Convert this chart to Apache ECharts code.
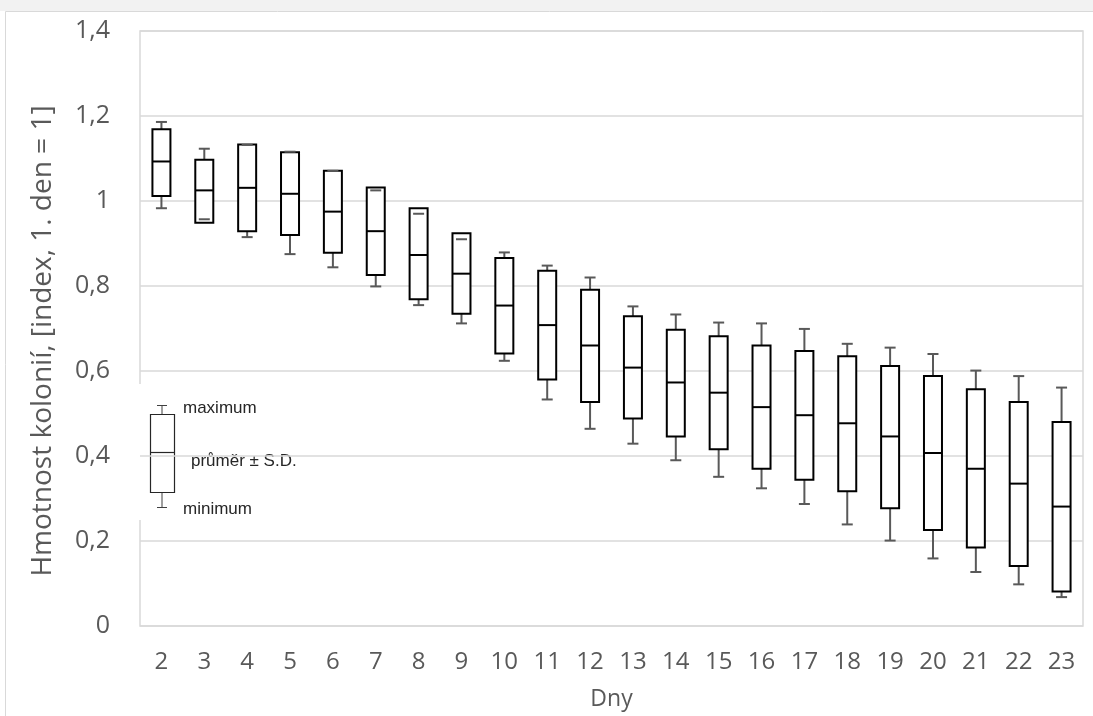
<!DOCTYPE html>
<html lang="cs">
<head>
<meta charset="UTF-8">
<title>Hmotnost kolonií</title>
<script src="https://cdn.jsdelivr.net/npm/echarts@6/dist/echarts.min.js"></script>
<style>
    html, body, #chart {
        width: 100%;
        height: 100%;
        margin: 0;
        padding: 0;
        background: #fff;
    }
</style>
</head>
<body>
<div id="chart"></div>
<script>
    // values: day, maximum, mean + SD, mean, mean - SD, minimum
    var days = ["2", "3", "4", "5", "6", "7", "8", "9", "10", "11", "12", "13",
        "14", "15", "16", "17", "18", "19", "20", "21", "22", "23"];
    var maxima = [1.186, 1.123, 1.132, 1.116, 1.071, 1.025, 0.970, 0.910, 0.879, 0.848, 0.820,
        0.752, 0.733, 0.714, 0.712, 0.699, 0.664, 0.655, 0.640, 0.601, 0.588, 0.561];
    var upperSD = [1.169, 1.097, 1.133, 1.115, 1.071, 1.032, 0.983, 0.924, 0.866, 0.836, 0.791,
        0.729, 0.697, 0.682, 0.660, 0.647, 0.635, 0.612, 0.588, 0.557, 0.527, 0.480];
    var means = [1.093, 1.025, 1.031, 1.017, 0.975, 0.929, 0.873, 0.829, 0.754, 0.708, 0.660,
        0.608, 0.573, 0.549, 0.515, 0.496, 0.477, 0.446, 0.407, 0.370, 0.335, 0.281];
    var lowerSD = [1.012, 0.949, 0.929, 0.920, 0.878, 0.826, 0.769, 0.735, 0.641, 0.580, 0.527,
        0.488, 0.446, 0.416, 0.370, 0.344, 0.317, 0.277, 0.226, 0.185, 0.141, 0.081];
    var minima = [0.983, 0.957, 0.915, 0.875, 0.844, 0.799, 0.755, 0.712, 0.624, 0.533, 0.464,
        0.429, 0.390, 0.351, 0.324, 0.287, 0.239, 0.201, 0.159, 0.127, 0.098, 0.068];
    var yTicks = [0, 0.2, 0.4, 0.6, 0.8, 1, 1.2, 1.4];

    var boxData = days.map(function (d, i) {
        return [i, maxima[i], upperSD[i], means[i], lowerSD[i], minima[i]];
    });

    var textFont = "'Open Sans', sans-serif";
    var legendFont = "17px 'Liberation Sans', Arial, sans-serif";
    var whiskerColor = "#595959";

    function renderBox(params, api) {
        var i = api.value(0);
        var pMax = api.coord([i, api.value(1)]);
        var pUp = api.coord([i, api.value(2)]);
        var pMean = api.coord([i, api.value(3)]);
        var pLow = api.coord([i, api.value(4)]);
        var pMin = api.coord([i, api.value(5)]);
        var band = api.size([1, 0])[0];
        var half = band * 0.21;
        var cap = 5.5;
        var x = pMean[0];
        return {
            type: "group",
            children: [
                {type: "line", shape: {x1: x, y1: pMax[1], x2: x, y2: pMin[1]},
                    style: {stroke: whiskerColor, lineWidth: 2}},
                {type: "rect", shape: {x: x - half, y: pUp[1], width: half * 2, height: pLow[1] - pUp[1]},
                    style: {fill: "#fff", stroke: "#000", lineWidth: 2}},
                {type: "line", shape: {x1: x - half, y1: pMean[1], x2: x + half, y2: pMean[1]},
                    style: {stroke: "#000", lineWidth: 2}},
                {type: "line", shape: {x1: x - cap, y1: pMax[1], x2: x + cap, y2: pMax[1]},
                    style: {stroke: whiskerColor, lineWidth: 2}},
                {type: "line", shape: {x1: x - cap, y1: pMin[1], x2: x + cap, y2: pMin[1]},
                    style: {stroke: whiskerColor, lineWidth: 2}}
            ]
        };
    }

    var chart = echarts.init(document.getElementById("chart"));

    chart.setOption({
        animation: false,
        grid: {
            left: 140,
            right: 10,
            top: 31,
            bottom: 90,
            show: true,
            borderColor: "#d9d9d9",
            borderWidth: 1.5
        },
        xAxis: {
            type: "category",
            data: days,
            boundaryGap: true,
            name: "Dny",
            nameLocation: "middle",
            nameGap: 62,
            nameTextStyle: {color: "#595959", fontSize: 23, fontFamily: textFont},
            axisLine: {show: false},
            axisTick: {show: false},
            axisLabel: {color: "#595959", fontSize: 24, fontFamily: textFont, margin: 24}
        },
        yAxis: {
            type: "value",
            min: 0,
            max: yTicks[yTicks.length - 1],
            interval: 0.2,
            axisLine: {show: false},
            axisTick: {show: false},
            splitLine: {lineStyle: {color: "#d9d9d9", width: 1.5}},
            axisLabel: {
                color: "#595959",
                fontSize: 25,
                fontFamily: textFont,
                margin: 30,
                formatter: function (v) {
                    return String(Math.round(v * 10) / 10).replace(".", ",");
                }
            }
        },
        graphic: [
            {type: "rect", z: 0, silent: true,
                shape: {x: 0, y: 0, width: 1093, height: 11}, style: {fill: "#f2f2f2"}},
            {type: "rect", z: 0, silent: true,
                shape: {x: 5.5, y: 11.5, width: 1200, height: 800},
                style: {fill: "none", stroke: "#d9d9d9", lineWidth: 1}},
            // y axis title
            {type: "text", z: 10, x: 43, y: 341, rotation: Math.PI / 2,
                style: {text: "Hmotnost kolonií, [index, 1. den = 1]", fill: "#595959",
                    font: "28px 'Open Sans', sans-serif", align: "center", verticalAlign: "middle"}},
            // legend inset
            {type: "group", z: 100, children: [
                {type: "rect", shape: {x: 128, y: 384, width: 177, height: 136}, style: {fill: "#fff"}},
                {type: "line", shape: {x1: 162, y1: 406, x2: 162, y2: 508}, style: {stroke: "#404040", lineWidth: 1}},
                {type: "rect", shape: {x: 150.5, y: 414.5, width: 24, height: 78}, style: {fill: "#fff", stroke: "#262626", lineWidth: 1.2}},
                {type: "line", shape: {x1: 150.5, y1: 452.5, x2: 174.5, y2: 452.5}, style: {stroke: "#262626", lineWidth: 1.2}},
                {type: "line", shape: {x1: 157, y1: 405.5, x2: 167, y2: 405.5}, style: {stroke: "#404040", lineWidth: 1}},
                {type: "line", shape: {x1: 157, y1: 507.5, x2: 167, y2: 507.5}, style: {stroke: "#404040", lineWidth: 1}},
                {type: "text", x: 183, y: 408, style: {text: "maximum", fill: "#262626",
                    font: legendFont, verticalAlign: "middle"}},
                {type: "text", x: 191, y: 461, style: {text: "průměr ± S.D.", fill: "#262626",
                    font: legendFont, verticalAlign: "middle"}},
                {type: "text", x: 183, y: 509, style: {text: "minimum", fill: "#262626",
                    font: legendFont, verticalAlign: "middle"}}
            ]}
        ],
        series: [{
            type: "custom",
            renderItem: renderBox,
            data: boxData,
            encode: {x: 0, y: [1, 2, 3, 4, 5]},
            z: 5
        }]
    });
</script>
</body>
</html>
